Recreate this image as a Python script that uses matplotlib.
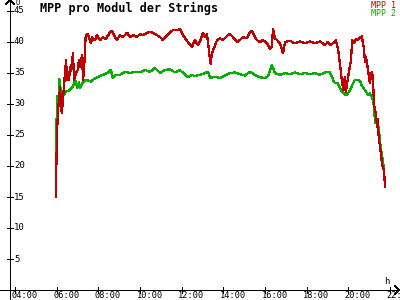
import numpy as np
import matplotlib
matplotlib.use("Agg")
import matplotlib.pyplot as plt

RED = "#C00000"; GREEN = "#00B000"; INK = "#000000"
MONO = "DejaVu Sans Mono"

# MPP 1 (red) - time, voltage per module
red_t = ["05:58","05:59","06:01","06:04","06:10","06:12","06:15","06:18","06:21","06:24",
         "06:27","06:30","06:36","06:38","06:41","06:47","06:50","06:56","07:01","07:04",
         "07:07","07:13","07:16","07:19","07:22","07:24","07:30","07:33","07:39","07:42",
         "07:50","07:56","08:05","08:13","08:22","08:34","08:39","08:48","08:54","09:02",
         "09:11","09:23","09:31","09:40","09:51","10:00","10:09","10:20","10:29","10:37",
         "10:49","10:58","11:06","11:18","11:26","11:35","11:47","11:55","12:04","12:10",
         "12:18","12:30","12:38","12:47","12:56","13:01","13:07","13:13","13:19","13:22",
         "13:24","13:27","13:33","13:42","13:50","13:59","14:11","14:19","14:28","14:39",
         "14:48","14:57","15:08","15:17","15:23","15:31","15:37","15:46","15:54","16:06",
         "16:14","16:20","16:23","16:29","16:35","16:43","16:52","16:58","17:12","17:26",
         "17:41","17:55","18:10","18:24","18:38","18:53","19:01","19:07","19:16","19:24",
         "19:30","19:36","19:42","19:46","19:50","19:53","20:02","20:08","20:11","20:16",
         "20:22","20:28","20:34","20:39","20:45","20:48","20:51","20:57","21:02","21:05",
         "21:08","21:11","21:14","21:20","21:23","21:25","21:28","21:31","21:34","21:37",
         "21:43","21:46"]
red_v = [15.0,19.7,25.3,29.0,32.8,29.5,28.5,30.6,32.8,35.0,
         37.1,33.9,33.9,36.0,35.3,38.2,33.9,35.0,35.5,37.1,
         36.0,37.9,33.9,35.5,39.5,41.1,41.3,40.8,39.8,40.8,
         40.3,41.1,40.3,40.8,40.5,41.6,41.8,40.8,40.3,41.1,
         40.8,41.5,40.8,41.1,40.8,41.3,41.1,41.5,41.6,41.5,
         41.1,40.8,40.3,41.1,41.5,41.9,41.9,42.1,41.1,40.6,
         40.0,39.2,40.3,39.5,40.5,41.5,40.8,41.3,38.5,36.8,
         36.5,38.2,39.0,40.3,40.6,40.3,41.0,41.3,40.8,40.0,
         40.3,40.8,40.6,41.6,41.8,40.8,40.3,40.0,40.3,39.8,
         38.9,39.2,42.1,40.6,40.3,39.8,38.2,40.0,40.2,39.8,
         40.1,39.8,40.1,39.8,40.1,39.5,40.0,39.5,39.8,40.3,
         39.0,36.5,33.5,32.2,34.4,31.9,35.3,37.1,40.3,39.8,
         40.5,40.3,40.8,40.9,39.0,36.8,37.6,35.5,33.4,34.4,
         35.2,34.2,30.0,28.3,26.3,27.5,24.2,23.4,22.0,20.3,
         19.2,16.6]

# MPP 2 (green)
green_t = ["05:58","05:59","06:01","06:04","06:06","06:07","06:10","06:12","06:15","06:18",
           "06:21","06:27","06:33","06:38","06:44","06:47","06:53","06:56","06:59","07:04",
           "07:07","07:16","07:24","07:30","07:39","07:45","07:53","08:05","08:13","08:25",
           "08:37","08:39","08:42","08:51","09:02","09:17","09:31","09:45","10:00","10:14",
           "10:29","10:43","10:58","11:12","11:26","11:41","11:55","12:10","12:18","12:30",
           "12:38","12:53","13:07","13:16","13:22","13:36","13:50","14:05","14:19","14:34",
           "14:48","15:02","15:17","15:31","15:46","16:00","16:09","16:20","16:29","16:43",
           "16:58","17:12","17:26","17:41","17:55","18:10","18:24","18:38","18:53","19:01",
           "19:07","19:13","19:16","19:21","19:30","19:36","19:42","19:47","19:53","19:59",
           "20:05","20:11","20:19","20:28","20:34","20:39","20:45","20:51","20:57","21:02",
           "21:08","21:14","21:17","21:20","21:23","21:28","21:31","21:34","21:37","21:40",
           "21:43"]
green_v = [20.6,24.7,31.2,31.2,31.2,34.0,33.8,30.6,29.8,31.4,
           31.4,32.0,32.1,32.3,32.6,32.8,33.8,33.5,32.6,33.5,
           32.6,33.5,33.9,33.8,33.6,33.9,34.2,34.5,34.7,35.0,
           35.5,34.7,34.2,34.7,34.7,35.2,35.0,35.2,35.1,35.5,
           35.2,35.8,35.0,35.5,35.6,35.1,35.5,34.7,34.3,34.7,
           34.5,34.7,35.0,35.2,34.2,34.4,34.2,34.6,35.0,35.1,
           34.8,34.6,35.2,34.7,34.3,34.2,34.5,36.3,35.0,34.7,
           35.0,34.8,35.1,34.8,35.0,34.8,35.0,34.7,35.1,35.2,
           35.1,34.4,33.9,33.4,33.4,32.5,32.0,31.7,31.4,31.7,
           32.2,33.0,33.9,33.9,33.7,33.0,32.5,32.0,31.4,31.7,
           31.2,29.7,27.0,28.0,27.0,26.2,24.2,22.6,22.0,20.4,
           19.8]

x_ticks = [4, 6, 8, 10, 12, 14, 16, 18, 20, 22]
y_ticks = [5, 10, 15, 20, 25, 30, 35, 40, 45]

def hours(ts):
    return np.array([int(t[:2]) + int(t[3:]) / 60 for t in ts])

# pixel -> data helpers (image is 400x300, y measured from top)
XH = lambda x: 4 + (x - 15) / 20.83
YV = lambda y: (290 - y) / 6.2

fig = plt.figure(figsize=(4, 3), dpi=100)
ax = fig.add_axes([0, 0, 1, 1])
ax.set_xlim(XH(0), XH(400)); ax.set_ylim(YV(300), YV(0)); ax.axis("off")

ax.plot(hours(red_t), red_v, color=RED, lw=0.9, antialiased=False, zorder=3)
ax.plot(hours(green_t), green_v, color=GREEN, lw=0.9, antialiased=False, zorder=2)

# axes with open arrow heads
AX = dict(color=INK, lw=0.6, antialiased=False)
ax.plot([XH(0), XH(399)], [0, 0], **AX)
ax.plot([XH(10), XH(10)], [YV(300), YV(0)], **AX)
ax.plot([XH(395), XH(399), XH(395)], [YV(286), 0, YV(294)], **AX)
ax.plot([XH(6), XH(10), XH(14)], [YV(4), YV(0), YV(4)], **AX)

for h in x_ticks:
    ax.plot([h, h], [YV(287), YV(293)], **AX)
    ax.text(h - 3.5 / 20.83, YV(296), f"{h:02d}:00", ha="left", va="center",
            fontsize=6.2, family=MONO, color=INK)
for v in y_ticks:
    ax.plot([XH(7), XH(13)], [v, v], **AX)
    ax.text(XH(14), v, str(v), ha="left", va="center", fontsize=6.5, family=MONO, color=INK)

ax.text(XH(15), YV(3.5), "U", ha="left", va="center", fontsize=5, family=MONO)
ax.text(XH(384), YV(281), "h", ha="left", va="center", fontsize=6.5, family=MONO)

ax.text(XH(40), YV(8.5), "MPP pro Modul der Strings", ha="left", va="center",
        fontsize=8.5, family=MONO, fontweight="bold")
ax.text(XH(396), YV(5.5), "MPP 1", ha="right", va="center", fontsize=6, family=MONO, color=RED)
ax.text(XH(396), YV(13.5), "MPP 2", ha="right", va="center", fontsize=6, family=MONO, color=GREEN)

fig.savefig("out.png", dpi=100)
